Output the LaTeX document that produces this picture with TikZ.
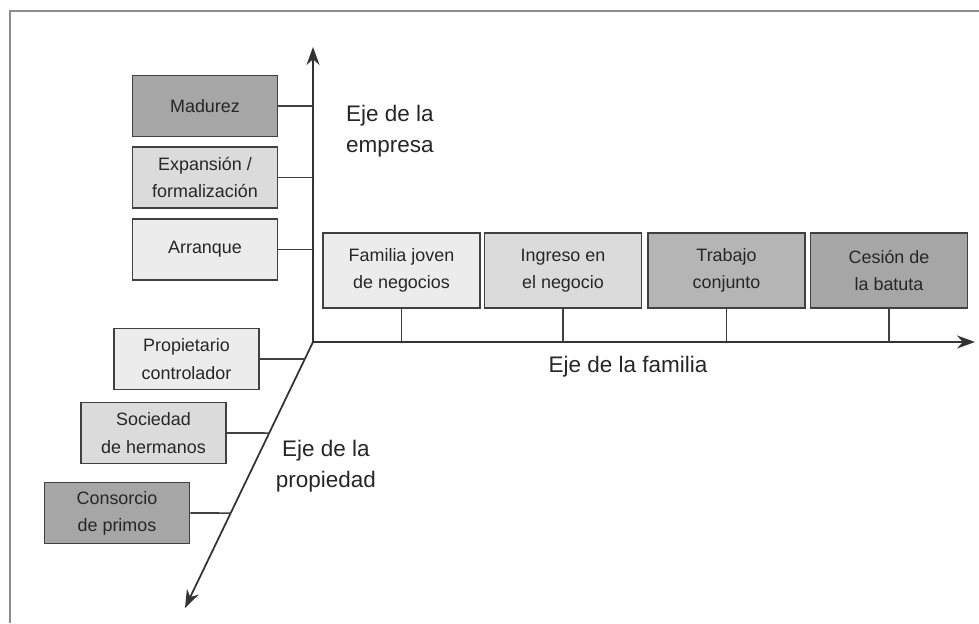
\documentclass[tikz,border=0pt]{standalone}
\usepackage{fontspec}
\setmainfont{Liberation Sans}
\usetikzlibrary{arrows.meta}
\definecolor{stagea}{HTML}{ECECEC}
\definecolor{stageb}{HTML}{DBDBDB}
\definecolor{stagec}{HTML}{B5B5B5}
\definecolor{staged}{HTML}{A6A6A6}
\definecolor{framegray}{HTML}{8C8C8C}
\tikzset{stagebox/.style={draw=black!75, line width=1pt, align=center, inner sep=0pt,
text=black!85, font=\fontsize{10.2}{15.5}\selectfont}}
\tikzset{vbox/.style={stagebox, minimum width=2.9cm, minimum height=1.22cm}}
\tikzset{hbox/.style={stagebox, minimum width=3.14cm, minimum height=1.5cm}}
\tikzset{axis/.style={line width=1pt, draw=black!80, -{Stealth[length=0.36cm, width=0.26cm]}}}
\tikzset{tick/.style={line width=0.9pt, draw=black!75}}
\tikzset{axislabel/.style={text=black!85, font=\fontsize{12.8}{17.6}\selectfont}}

\begin{document}
\begin{tikzpicture}[x=0.02cm, y=-0.02cm]
    \useasboundingbox (0,0) rectangle (979,623);
    \draw [framegray, line width=1.1pt] (10,623) -- (10,11) -- (979,11);

    \coordinate (o) at (313,342);
    \coordinate (yt) at (313,47);
    \coordinate (xt) at (975,342);
    \coordinate (zt) at (185,608);
    \draw [axis] (o) to (yt);
    \draw [axis] (o) to (xt);
    \draw [axis] (o) to (zt);

    \node [vbox, fill=staged] (mad) at (205,106) {Madurez};
    \node [vbox, fill=stageb] (exp) at (205,177.5) {Expansión /\\formalización};
    \node [vbox, fill=stagea] (arr) at (205,249.5) {Arranque};
    \draw [tick] (mad.east) to (mad.east -| o);
    \draw [tick] (exp.east) to (exp.east -| o);
    \draw [tick] (arr.east) to (arr.east -| o);

    \node [hbox, fill=stagea] (fam) at (401.5,270.5) {Familia joven\\de negocios};
    \node [hbox, fill=stageb] (ing) at (563,270.5) {Ingreso en\\el negocio};
    \node [hbox, fill=stagec] (tra) at (726.5,270.5) {Trabajo\\conjunto};
    \node [hbox, fill=staged] (ces) at (889,270.5) {Cesión de\\la batuta};
    \draw [tick] (fam.south) to (fam.south |- o);
    \draw [tick] (ing.south) to (ing.south |- o);
    \draw [tick] (tra.south) to (tra.south |- o);
    \draw [tick] (ces.south) to (ces.south |- o);

    \node [vbox, fill=stagea] (pro) at (186.5,359) {Propietario\\controlador};
    \node [vbox, fill=stageb] (soc) at (153.5,433) {Sociedad\\de hermanos};
    \node [vbox, fill=staged] (con) at (117,513) {Consorcio\\de primos};
    \draw [tick] (pro.east) to (intersection of o--zt and pro.east--pro.west);
    \draw [tick] (soc.east) to (intersection of o--zt and soc.east--soc.west);
    \draw [tick] (con.east) to (intersection of o--zt and con.east--con.west);

    \node [axislabel, align=left, anchor=west] (emp) at (340,131) {Eje de la\\empresa};
    \node [axislabel] (fml) at (628,367) {Eje de la familia};
    \node [axislabel, align=center] (prp) at (326,466) {Eje de la\\propiedad};
\end{tikzpicture}
\end{document}
